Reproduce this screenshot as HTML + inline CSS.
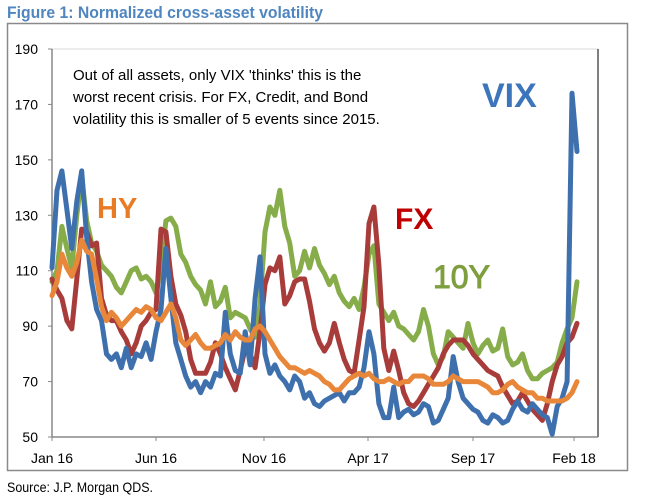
<!DOCTYPE html>
<html><head><meta charset="utf-8"><style>
html,body{margin:0;padding:0;background:#fff;}
svg{display:block;font-family:"Liberation Sans",Arial,sans-serif;}
</style></head><body>
<svg id="chart" width="670" height="501" viewBox="0 0 670 501">
<text x="7" y="18" font-size="17" font-weight="bold" fill="#4f86c0" textLength="316" lengthAdjust="spacingAndGlyphs">Figure 1: Normalized cross-asset volatility</text>
<rect x="7.5" y="23.5" width="620" height="447" fill="none" stroke="#8a8a8a" stroke-width="1.5"/>
<rect x="52" y="49" width="546" height="388" fill="none" stroke="#d9d9d9" stroke-width="1"/>
<line x1="598" y1="49" x2="598" y2="437" stroke="#000" stroke-width="1"/>
<line x1="52" y1="49" x2="52" y2="437" stroke="#888" stroke-width="1.5"/>
<line x1="52" y1="437" x2="598" y2="437" stroke="#888" stroke-width="1.5"/>
<g id="yticks"></g><g id="xticks"></g><g id="series"></g>
<g font-size="15" fill="#000">
<text x="73" y="80">Out of all assets, only VIX 'thinks' this is the</text>
<text x="73" y="102">worst recent crisis. For FX, Credit, and Bond</text>
<text x="73" y="124">volatility this is smaller of 5 events since 2015.</text>
</g>
<text x="97" y="218" font-size="29" font-weight="bold" fill="#e97b25">HY</text>
<text x="395" y="229" font-size="30" font-weight="bold" fill="#c00000">FX</text>
<text x="433" y="288" font-size="32" fill="#7f9f3f" stroke="#7f9f3f" stroke-width="1">10Y</text>
<text x="482" y="107" font-size="34" font-weight="bold" fill="#3d75bd">VIX</text>
<text x="7" y="492" font-size="14" fill="#000" textLength="146" lengthAdjust="spacingAndGlyphs">Source: J.P. Morgan QDS.</text>
</svg>
<script>
const yTicks=[50,70,90,110,130,150,170,190];
const xLabels=["Jan 16","Jun 16","Nov 16","Apr 17","Sep 17","Feb 18"];
const xLabelIdx=[0,21,42.8,63.8,85,105.4];
const vix=[111,139,146,132,118,135,146,122,106,96,92,80,78,80,75,82,75,80,79,84,78,88,96,118,100,84,78,72,68,70,66,70,68,73,72,95,80,74,73,88,76,100,115,80,73,76,72,70,67,72,70,64,66,62,61,63,64,65,66,63,66,66,68,75,88,80,62,57,57,68,57,59,60,58,59,62,61,55,56,60,64,79,70,64,62,60,59,56,55,58,57,55,56,60,63,60,59,62,60,58,57,51,61,64,70,174,153];
const fx=[107,103,100,92,89,107,125,124,119,120,100,94,92,92,88,85,80,84,90,92,95,96,125,124,108,98,94,88,78,73,73,73,77,84,80,75,71,67,74,82,80,75,88,105,111,110,115,98,101,106,107,107,99,89,84,81,84,91,84,78,74,73,85,97,127,133,112,82,74,81,74,66,62,61,63,66,69,72,75,80,83,85,85,85,83,80,78,76,74,73,72,68,65,62,63,66,63,60,58,56,62,70,76,79,84,86,91];
const tenY=[106,110,126,118,111,130,144,128,120,117,112,110,108,104,102,106,110,111,107,108,106,102,112,128,129,126,116,113,108,105,103,98,106,97,99,104,93,95,94,93,89,86,98,124,133,130,139,126,120,108,110,117,111,118,112,109,105,108,102,99,97,100,96,104,116,119,98,95,92,95,90,89,87,85,88,96,90,80,76,79,88,86,84,82,91,84,80,83,85,81,82,89,79,76,77,80,74,71,71,73,74,75,77,84,89,93,106];
const hy=[101,106,116,111,108,113,121,117,116,107,97,92,95,93,90,92,94,96,95,97,96,93,92,95,98,93,85,83,85,87,84,82,82,83,84,87,85,88,86,85,85,89,90,88,85,82,79,77,75,75,74,73,74,73,72,70,69,67,67,69,71,72,73,72,73,71,70,70,71,70,69,70,70,72,72,72,71,69,69,69,70,72,71,70,70,70,70,69,68,66,66,67,69,70,68,67,66,66,64,64,63,63,63,63,64,66,70];
const X0=52,X1=577,Y0=437,Y1=49,YMIN=50,YMAX=190,N=vix.length;
function xs(i){return X0+(X1-X0)*i/(N-1);}
function ys(v){return Y0-(v-YMIN)*(Y0-Y1)/(YMAX-YMIN);}
const NS="http://www.w3.org/2000/svg";
const yg=document.getElementById('yticks');
yTicks.forEach(t=>{
  const tx=document.createElementNS(NS,'text');
  tx.setAttribute('x',38);tx.setAttribute('y',ys(t)+5);tx.setAttribute('text-anchor','end');tx.setAttribute('font-size','14');
  tx.textContent=t;
  
  
  yg.appendChild(tx);
  const ln=document.createElementNS(NS,'line');
  ln.setAttribute('x1',48);ln.setAttribute('x2',52);ln.setAttribute('y1',ys(t));ln.setAttribute('y2',ys(t));ln.setAttribute('stroke','#888');
  
  
  yg.appendChild(ln);
});
const xg=document.getElementById('xticks');
xLabels.forEach((l,k)=>{
  const x=xs(xLabelIdx[k]);
  const tx=document.createElementNS(NS,'text');
  tx.setAttribute('x',x);tx.setAttribute('y',463);tx.setAttribute('text-anchor','middle');tx.setAttribute('font-size','14');
  tx.textContent=l;
  
  
  xg.appendChild(tx);
  const ln=document.createElementNS(NS,'line');
  ln.setAttribute('x1',x);ln.setAttribute('x2',x);ln.setAttribute('y1',437);ln.setAttribute('y2',441);ln.setAttribute('stroke','#888');
  
  
  xg.appendChild(ln);
});
const sg=document.getElementById('series');
[[tenY,'#86ad4a','line-10y'],[fx,'#a83c3a','line-fx'],[vix,'#3f70ae','line-vix'],[hy,'#e8873a','line-hy']].forEach(s=>{
  const p=document.createElementNS(NS,'path');
  p.setAttribute('d',s[0].map((v,i)=>(i?'L':'M')+xs(i).toFixed(1)+' '+ys(v).toFixed(1)).join(' '));
  p.setAttribute('fill','none');p.setAttribute('stroke',s[1]);p.setAttribute('stroke-width','5');p.setAttribute('stroke-linejoin','round');p.setAttribute('stroke-linecap','round');
  
  
  sg.appendChild(p);
});
</script>
</body></html>
